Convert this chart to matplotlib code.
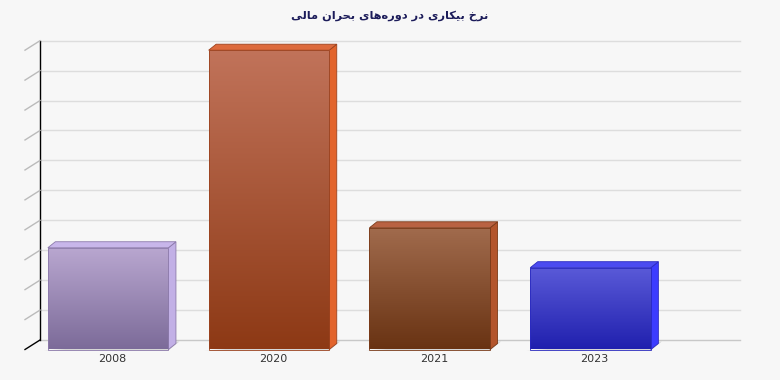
import matplotlib.pyplot as plt
import matplotlib.transforms as mtransforms
from matplotlib.colors import to_rgb
from matplotlib.patches import Polygon
import numpy as np

title = "نرخ بیکاری در دوره‌های بحران مالی"
years = ["2008", "2020", "2021", "2023"]
rates = [5.1, 15.0, 6.1, 4.1]
grid_ticks = [0, 1.5, 3, 4.5, 6, 7.5, 9, 10.5, 12, 13.5, 15]

front_top = ["#b9a7d0", "#c1735a", "#a16b4d", "#5a5ad8"]
front_bottom = ["#7c6b99", "#8d3915", "#693313", "#2020ae"]
side_colors = ["#c2b0e6", "#e2642c", "#b3552c", "#3c3cff"]
top_colors = ["#c8b6ea", "#dd6a3c", "#b96242", "#4b4bf0"]
edge_colors = ["#8c7aab", "#9b421e", "#7a3a18", "#2a2ac0"]

# persian shaping by hand (matplotlib has no bidi/shaping)
forms = {
    "ا": ("\uFE8D", "\uFE8E", None, None),
    "ب": ("\uFE8F", "\uFE90", "\uFE91", "\uFE92"),
    "ح": ("\uFEA1", "\uFEA2", "\uFEA3", "\uFEA4"),
    "خ": ("\uFEA5", "\uFEA6", "\uFEA7", "\uFEA8"),
    "د": ("\uFEA9", "\uFEAA", None, None),
    "ر": ("\uFEAD", "\uFEAE", None, None),
    "ل": ("\uFEDD", "\uFEDE", "\uFEDF", "\uFEE0"),
    "م": ("\uFEE1", "\uFEE2", "\uFEE3", "\uFEE4"),
    "ن": ("\uFEE5", "\uFEE6", "\uFEE7", "\uFEE8"),
    "ه": ("\uFEE9", "\uFEEA", "\uFEEB", "\uFEEC"),
    "و": ("\uFEED", "\uFEEE", None, None),
    "ی": ("\uFBFC", "\uFBFD", "\uFBFE", "\uFBFF"),
    "ک": ("\uFB8E", "\uFB8F", "\uFB90", "\uFB91"),
}


def shape(text):
    out = []
    for i, ch in enumerate(text):
        if ch not in forms:
            out.append(ch)
            continue
        prev = text[i - 1] if i > 0 else ""
        nxt = text[i + 1] if i + 1 < len(text) else ""
        join_prev = prev in forms and forms[prev][2] is not None
        join_next = forms[ch][2] is not None and nxt in forms
        if join_prev and join_next:
            out.append(forms[ch][3])
        elif join_prev:
            out.append(forms[ch][1])
        elif join_next:
            out.append(forms[ch][2])
        else:
            out.append(forms[ch][0])
    return "".join(c for c in out if c != "\u200c")[::-1]


fig = plt.figure(figsize=(7.8, 3.8), dpi=100, facecolor="#f7f7f7")
ax = fig.add_axes([25 / 780, 30.5 / 380, 700 / 780, 299.3 / 380])
ax.set_facecolor("none")
for s in ax.spines.values():
    s.set_visible(False)
ax.set_xticks([])
ax.set_yticks([])
ax.set_xlim(-0.517, 3.836)
ax.set_ylim(0, 15)

back = mtransforms.offset_copy(ax.transData, fig=fig, x=15, y=9.5, units="dots")
bar_off = mtransforms.offset_copy(ax.transData, fig=fig, x=7.5, y=6, units="dots")

x0, x1 = ax.get_xlim()
for t in grid_ticks:
    ax.plot([x0, x1], [t, t], color="#dddddd" if t else "#c8c8c8", lw=1,
            transform=back, zorder=1, clip_on=False)
# left wall and front-left ticks
ax.plot([x0, x0], [0, 15], color="black", lw=1, transform=back, zorder=2, clip_on=False)
for t in grid_ticks:
    p0 = ax.transData.transform((x0, t))
    p1 = back.transform((x0, t))
    ax.plot([p0[0], p1[0]], [p0[1], p1[1]], transform=None,
            color="black" if t == 0 else "#bbbbbb", lw=1, zorder=2, clip_on=False)

width = 0.75
for i, (yr, v) in enumerate(zip(years, rates)):
    xl, xr = i - width / 2, i + width / 2
    # floor shadow
    pl, pr = ax.transData.transform((xl, 0)), ax.transData.transform((xr, 0))
    pts = [pl + [-4, -1], pr + [0, -1], pr + [11, 8], pr + [5, 8]]
    ax.add_patch(Polygon(pts, closed=True, transform=None, facecolor="#d6d6d6",
                         edgecolor="none", zorder=2, clip_on=False))
    # side and top faces
    fl, fr = ax.transData.transform((xl, v)), ax.transData.transform((xr, v))
    bt = bar_off.transform((xr, v))
    side = [pr, fr, bt, bar_off.transform((xr, 0))]
    ax.add_patch(Polygon(side, closed=True, transform=None, facecolor=side_colors[i],
                         edgecolor=edge_colors[i], lw=0.6, zorder=3, clip_on=False))
    top = [fl, fr, bt, bar_off.transform((xl, v))]
    ax.add_patch(Polygon(top, closed=True, transform=None, facecolor=top_colors[i],
                         edgecolor=edge_colors[i], lw=0.6, zorder=3, clip_on=False))
    # front face with vertical gradient
    front = ax.bar(i, v, width=width, facecolor="none", edgecolor=edge_colors[i],
                   lw=0.6, zorder=5, clip_on=False)[0]
    c_top, c_bot = np.array(to_rgb(front_top[i])), np.array(to_rgb(front_bottom[i]))
    f = np.linspace(0, 1, 100)[:, None]
    grad = (c_top * (1 - f) + c_bot * f)[:, None, :]
    im = ax.imshow(grad, extent=[xl, xr, 0, v], aspect="auto", origin="upper", zorder=4)
    im.set_clip_path(front)
    ax.annotate(yr, xy=(i, 0), xytext=(4, -5), textcoords="offset pixels",
                ha="center", va="top", fontsize=8, color="#333333")

ax.set_xlim(x0, x1)
ax.set_ylim(0, 15)

fig.text(0.5, 1 - 16 / 380, shape(title), ha="center", va="center", fontsize=8.2,
         fontweight="bold", color="#1c1c5a", family=["DejaVu Sans"])

fig.savefig("out.png", dpi=100, facecolor=fig.get_facecolor())
